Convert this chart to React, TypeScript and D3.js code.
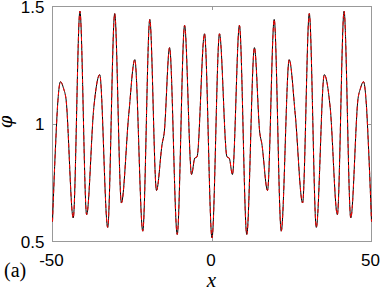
import { useEffect, useRef } from 'react';
import * as d3 from 'd3';

const width = 382;
const height = 290;

// plot box in page pixels
const left = 52.5;
const right = 371.5;
const top = 6.5;
const bottom = 241.5;

// values: extrema, shoulders and a few points on the slopes
const xValues = [
    -50, -49.1, -48.3, -47.5, -46.5, -45.8, -43.5, -41.4, -39.3, -37.05, -35.2,
    -32.7, -30.5, -28.4, -26.1, -24.2, -21.7, -19.5, -17.4, -15.6, -15.0, -13.3,
    -10.9, -8.6, -6.4, -5.4, -4.7, -2.35, 0,
    2.35, 4.7, 5.4, 6.4, 8.6, 10.9, 13.3, 15.0, 15.6, 17.4, 19.5, 21.7, 24.2,
    26.1, 28.4, 30.5, 32.7, 35.2, 37.05, 39.3, 41.4, 43.5, 45.8, 46.5, 47.5,
    48.3, 49.1, 50,
];
const phiValues = [
    0.585, 0.89, 1.1, 1.18, 1.15, 1.11, 0.6, 1.48, 0.614, 1.07, 1.21,
    0.56, 1.47, 0.664, 1.04, 1.274, 0.544, 1.445, 0.717, 0.918, 0.96, 1.325,
    0.53, 1.42, 0.785, 0.855, 0.86, 1.384, 0.515,
    1.384, 0.86, 0.855, 0.785, 1.42, 0.53, 1.325, 0.96, 0.918, 0.717, 1.445, 0.544, 1.274,
    1.04, 0.664, 1.47, 0.56, 1.21, 1.07, 0.614, 1.48, 0.6, 1.11, 1.15, 1.18,
    1.1, 0.89, 0.585,
];

const xTicks = [-50, 0, 50];
const yTicks = [0.5, 1, 1.5];

const tickFont = '"Liberation Sans", Arial, sans-serif';
const serifFont = '"Liberation Serif", "Times New Roman", serif';

export default function App() {
    const svgRef = useRef<SVGSVGElement>(null);

    useEffect(() => {
        const svg = d3.select(svgRef.current);
        svg.selectAll('*').remove();

        const x = d3.scaleLinear().domain([-50, 50]).range([left, right]);
        const y = d3.scaleLinear().domain([0.5, 1.5]).range([bottom, top]);

        const points = xValues.map((v, i) => [v, phiValues[i]] as [number, number]);
        const line = d3.line<[number, number]>()
            .x(d => x(d[0]))
            .y(d => y(d[1]))
            .curve(d3.curveMonotoneX);

        // box
        svg.append('rect')
            .attr('x', left).attr('y', top)
            .attr('width', right - left).attr('height', bottom - top)
            .attr('fill', 'none')
            .attr('stroke', '#999')
            .attr('stroke-width', 1);

        // ticks, inward and mirrored
        const tickLen = 3.5;
        xTicks.forEach(t => {
            const px = Math.round(x(t) - 0.5) + 0.5;
            svg.append('line').attr('x1', px).attr('x2', px).attr('y1', bottom).attr('y2', bottom - tickLen).attr('stroke', '#999');
            svg.append('line').attr('x1', px).attr('x2', px).attr('y1', top).attr('y2', top + tickLen).attr('stroke', '#999');
            svg.append('text')
                .attr('x', x(t) - 1).attr('y', 266)
                .attr('text-anchor', 'middle')
                .attr('font-family', tickFont).attr('font-size', 17)
                .attr('fill', '#000')
                .text(String(t));
        });
        yTicks.forEach(t => {
            const py = Math.round(y(t) - 0.5) + 0.5;
            svg.append('line').attr('x1', left).attr('x2', left + tickLen).attr('y1', py).attr('y2', py).attr('stroke', '#999');
            svg.append('line').attr('x1', right).attr('x2', right - tickLen).attr('y1', py).attr('y2', py).attr('stroke', '#999');
            svg.append('text')
                .attr('x', 44.5).attr('y', y(t) + 6.2)
                .attr('text-anchor', 'end')
                .attr('font-family', tickFont).attr('font-size', 17)
                .attr('fill', '#000')
                .text(String(t));
        });

        // the two curves (solid black, dashed red on top)
        svg.append('path')
            .attr('d', line(points))
            .attr('fill', 'none')
            .attr('stroke', '#000')
            .attr('stroke-width', 1);
        svg.append('path')
            .attr('d', line(points))
            .attr('fill', 'none')
            .attr('stroke', '#ff0000')
            .attr('stroke-width', 1)
            .attr('stroke-dasharray', '4,3');

        // labels
        svg.append('text')
            .attr('x', 211.5).attr('y', 287)
            .attr('text-anchor', 'middle')
            .attr('font-family', serifFont).attr('font-style', 'italic').attr('font-size', 21)
            .text('x');
        svg.append('text')
            .attr('transform', 'translate(12,122) rotate(-90)')
            .attr('text-anchor', 'middle')
            .attr('font-family', '"DejaVu Serif", serif').attr('font-style', 'italic').attr('font-size', 18)
            .text('φ');
        svg.append('text')
            .attr('x', 4).attr('y', 276.5)
            .attr('font-family', serifFont).attr('font-size', 20)
            .text('(a)');
    }, []);

    return (
        <svg
            ref={svgRef}
            width={width}
            height={height}
            style={{ position: 'absolute', left: 0, top: 0, background: '#fff' }}
        />
    );
}
